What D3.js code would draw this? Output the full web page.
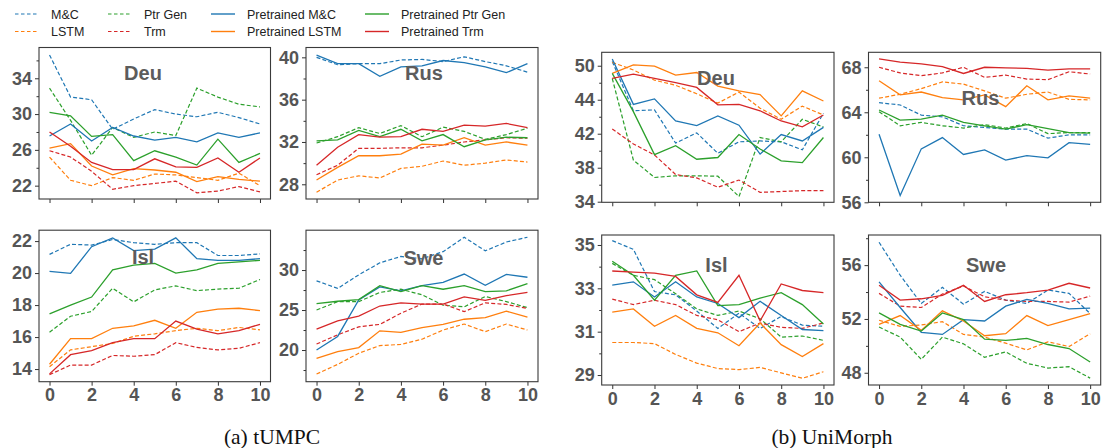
<!DOCTYPE html>
<html>
<head>
<meta charset="utf-8">
<script src="https://cdn.jsdelivr.net/npm/d3@7"></script>
<style>
    body { margin: 0; background: #fff; }
    svg text { font-family: "Liberation Sans", Arial, Helvetica, sans-serif; }
    .tick text { font-weight: bold; fill: #555; font-size: 18px; }
    .tick line { stroke: #333; }
    .domain { display: none; }
    .panel-title { font-weight: bold; fill: #5c5c5c; font-size: 20px; }
    .caption { font-family: "Liberation Serif", "Times New Roman", serif; font-size: 21.5px; fill: #111; }
    .legend-label { font-size: 12.5px; fill: #222; }
</style>
</head>
<body>
<div id="chart"></div>
<script>
// x values (training steps) and axis ticks
const steps = [0, 1, 2, 3, 4, 5, 6, 7, 8, 9, 10];
const xTicks = [0, 2, 4, 6, 8, 10];

const seriesNames = ["M&C", "LSTM", "Ptr Gen", "Trm",
    "Pretrained M&C", "Pretrained LSTM", "Pretrained Ptr Gen", "Pretrained Trm"];

// every panel: one row per series, same order as seriesNames
const tumpcDeu = [
    [36.6, 31.9, 31.6, 28.3, 29.45, 30.5, 30.0, 29.7, 30.2, 29.6, 28.9],
    [25.2, 22.6, 22.0, 22.9, 22.6, 23.3, 23.2, 22.9, 22.6, 23.4, 22.0],
    [32.9, 29.3, 25.4, 28.5, 27.4, 28.0, 27.6, 32.9, 31.9, 31.1, 30.8],
    [25.9, 25.2, 23.6, 21.6, 22.0, 22.25, 22.5, 21.2, 21.4, 21.9, 21.3],
    [27.55, 28.9, 27.0, 28.5, 27.55, 27.1, 27.4, 26.9, 27.9, 27.4, 27.9],
    [26.2, 26.7, 24.2, 23.2, 23.9, 23.75, 23.5, 22.45, 23.0, 22.7, 22.5],
    [30.2, 29.8, 27.5, 27.7, 24.8, 25.9, 25.2, 24.3, 27.2, 24.6, 25.6],
    [28.0, 26.4, 24.6, 23.8, 23.8, 25.0, 24.1, 24.05, 25.1, 23.5, 25.1]
];
const tumpcRus = [
    [40.0, 39.3, 39.4, 39.4, 39.75, 39.8, 39.6, 40.05, 39.6, 39.2, 38.6],
    [27.25, 28.4, 28.8, 28.6, 29.5, 29.7, 30.2, 29.8, 30.0, 30.3, 30.1],
    [31.9, 32.5, 33.35, 32.8, 33.55, 32.5, 33.4, 33.0, 32.25, 32.7, 33.3],
    [28.9, 29.8, 31.4, 31.4, 31.45, 31.45, 31.7, 32.0, 32.2, 32.4, 32.35],
    [40.2, 39.4, 39.4, 38.2, 39.1, 39.2, 39.7, 39.5, 39.1, 38.55, 39.4],
    [28.4, 29.6, 30.7, 30.7, 30.85, 31.8, 31.7, 32.4, 31.7, 32.0, 31.7],
    [32.1, 32.2, 33.1, 32.5, 33.2, 32.1, 32.7, 31.55, 32.2, 32.45, 32.4],
    [29.8, 31.5, 32.7, 32.45, 32.5, 33.2, 33.0, 33.6, 33.5, 33.75, 33.35]
];
const tumpcIsl = [
    [21.17, 21.8, 21.75, 22.1, 21.9, 21.8, 21.9, 21.9, 21.1, 21.1, 21.2],
    [14.15, 15.2, 15.4, 15.6, 16.05, 16.2, 16.4, 16.55, 16.4, 16.6, 16.45],
    [16.3, 17.3, 17.6, 19.05, 18.2, 18.95, 19.2, 18.9, 19.0, 19.05, 19.6],
    [13.65, 14.25, 14.25, 14.85, 14.8, 14.9, 15.65, 15.35, 15.2, 15.3, 15.65],
    [20.1, 19.98, 21.65, 22.2, 21.4, 21.5, 22.2, 20.9, 20.8, 20.8, 20.9],
    [14.3, 15.9, 15.9, 16.55, 16.7, 17.05, 16.55, 17.55, 17.75, 17.8, 17.65],
    [17.45, 18.0, 18.5, 20.2, 20.5, 20.6, 20.0, 20.2, 20.6, 20.7, 20.8],
    [13.7, 14.9, 15.15, 15.65, 15.9, 15.9, 17.0, 16.5, 16.2, 16.4, 16.8]
];
const tumpcSwe = [
    [28.65, 27.7, 29.4, 30.9, 31.7, 31.4, 32.3, 34.1, 32.4, 33.5, 34.1],
    [17.0, 18.2, 19.6, 20.55, 20.7, 21.35, 22.5, 23.25, 22.3, 23.25, 22.5],
    [25.0, 26.05, 26.05, 27.2, 27.6, 26.9, 25.6, 25.4, 26.7, 26.05, 25.3],
    [20.75, 21.9, 22.9, 23.2, 24.6, 25.75, 25.75, 24.8, 25.9, 25.7, 25.2],
    [20.0, 21.7, 26.25, 27.9, 27.4, 28.05, 28.45, 29.5, 28.1, 29.45, 29.1],
    [18.95, 19.8, 20.3, 22.4, 22.2, 22.8, 23.2, 23.85, 24.05, 24.85, 24.1],
    [25.8, 26.1, 26.3, 28.05, 27.3, 28.05, 27.6, 28.05, 27.3, 27.4, 28.3],
    [22.6, 23.65, 24.25, 25.5, 25.9, 25.75, 25.75, 26.65, 26.2, 26.8, 27.2]
];
const uniDeu = [
    [50.5, 44.7, 44.8, 40.9, 42.1, 39.7, 41.05, 41.15, 41.05, 40.1, 44.4],
    [50.4, 49.5, 48.3, 47.7, 46.7, 45.6, 46.9, 45.0, 43.7, 45.25, 44.2],
    [48.5, 38.9, 36.85, 37.05, 37.05, 37.0, 34.6, 41.55, 41.05, 43.7, 42.8],
    [42.55, 40.8, 39.5, 37.2, 36.8, 35.7, 36.55, 35.1, 35.2, 35.3, 35.3],
    [50.8, 45.45, 46.1, 43.5, 42.95, 44.1, 43.0, 39.6, 41.9, 41.15, 42.75],
    [49.1, 50.1, 49.95, 48.9, 49.2, 47.6, 47.05, 46.6, 44.1, 47.05, 45.85],
    [49.1, 44.6, 39.55, 40.6, 39.0, 39.2, 41.9, 40.2, 38.8, 38.6, 41.55],
    [48.5, 49.0, 48.5, 48.0, 47.45, 45.4, 45.45, 44.7, 43.5, 42.8, 44.2]
];
const uniRus = [
    [64.85, 64.65, 63.75, 63.6, 62.8, 62.65, 62.5, 62.5, 61.7, 62.0, 62.0],
    [65.25, 65.6, 66.1, 66.7, 66.5, 65.9, 65.25, 65.6, 65.8, 65.15, 65.1],
    [64.05, 62.8, 63.1, 62.8, 62.6, 62.9, 62.6, 63.0, 62.1, 62.2, 62.2],
    [68.0, 67.5, 67.25, 67.5, 68.0, 67.1, 67.3, 66.95, 66.9, 67.6, 67.4],
    [62.05, 56.6, 60.75, 61.75, 60.25, 60.65, 59.75, 60.15, 59.95, 61.3, 61.15],
    [66.8, 65.55, 65.8, 65.3, 65.1, 65.55, 64.5, 66.35, 65.1, 65.45, 65.25],
    [64.2, 63.3, 63.4, 63.75, 63.1, 62.8, 62.5, 62.9, 62.55, 62.2, 62.15],
    [68.75, 68.45, 68.3, 68.05, 67.45, 68.0, 67.95, 67.9, 67.75, 67.85, 67.85]
];
const uniIsl = [
    [35.2, 34.8, 32.85, 32.7, 31.95, 31.15, 31.85, 31.15, 31.7, 31.3, 31.25],
    [30.5, 30.5, 30.45, 29.95, 29.55, 29.3, 29.25, 29.35, 29.1, 28.85, 29.15],
    [34.15, 33.6, 33.4, 32.75, 32.05, 31.75, 31.95, 31.6, 30.75, 30.8, 30.6],
    [32.5, 32.25, 32.45, 32.25, 31.75, 31.55, 31.0, 31.4, 31.2, 31.15, 31.4],
    [33.15, 33.3, 32.6, 33.3, 32.6, 32.3, 31.65, 32.4, 31.75, 31.1, 31.05],
    [31.9, 32.05, 31.25, 31.75, 31.15, 30.95, 30.35, 31.4, 30.4, 29.85, 30.45],
    [34.25, 33.6, 32.45, 33.6, 33.8, 32.2, 32.25, 32.55, 32.8, 32.25, 31.35],
    [33.8, 33.75, 33.7, 33.55, 32.7, 32.35, 33.6, 31.5, 33.2, 32.9, 32.8]
];
const uniSwe = [
    [57.7, 55.25, 53.15, 54.35, 53.1, 54.05, 53.4, 53.15, 54.15, 53.9, 52.4],
    [51.9, 51.45, 51.55, 51.8, 50.85, 50.65, 50.2, 49.7, 50.3, 49.95, 50.9],
    [51.4, 50.65, 49.0, 50.65, 50.15, 49.15, 49.55, 48.7, 48.35, 48.45, 47.6],
    [53.9, 52.95, 52.85, 53.85, 54.45, 53.65, 53.4, 53.3, 53.3, 53.25, 53.7],
    [54.75, 52.85, 51.0, 50.85, 51.95, 51.85, 52.95, 53.45, 53.15, 52.75, 52.8],
    [51.6, 52.25, 51.15, 52.6, 51.85, 50.75, 50.9, 52.25, 51.5, 51.95, 52.4],
    [52.45, 51.6, 51.1, 52.45, 51.95, 50.5, 50.4, 50.55, 50.1, 49.8, 48.8],
    [54.5, 53.4, 53.5, 53.75, 54.5, 53.3, 53.8, 53.95, 54.15, 54.65, 54.3]
];

// y tick values (labelled / small unlabelled) and labels as printed
const tumpcDeuTicks = [22, 26, 30, 34], tumpcDeuMinor = [24, 28, 32, 36];
const tumpcRusTicks = [28, 32, 36, 40], tumpcRusMinor = [30, 34, 38];
const tumpcIslTicks = [14, 16, 18, 20, 22], tumpcIslMinor = [];
const tumpcSweTicks = [20, 25, 30], tumpcSweMinor = [17.5, 22.5, 27.5, 32.5];
const uniDeuTicks = [34, 38, 42, 46, 50], uniDeuMinor = [36, 40, 44, 48];
const uniDeuLabels = ["34", "38", "42", "44", "50"];
const uniRusTicks = [56, 60, 64, 68], uniRusMinor = [58, 62, 66];
const uniIslTicks = [29, 31, 33, 35], uniIslMinor = [30, 32, 34];
const uniSweTicks = [48, 52, 56], uniSweMinor = [50, 54, 58];

// blue, orange, green, red for M&C, LSTM, Ptr Gen, Trm (same for pretrained)
const colors = ["#1f77b4", "#ff7f0e", "#2ca02c", "#d62728"];

class SmallPanel {
    constructor(svg, cfg) {
        this.svg = svg;
        this.cfg = cfg;
        this.initVis();
    }

    initVis() {
        let vis = this;
        let c = vis.cfg;

        vis.g = vis.svg.append("g")
            .attr("transform", "translate(" + c.left + "," + c.top + ")");

        vis.x = d3.scaleLinear().domain([-0.5, 10.5]).range([0, c.width]);
        vis.y = d3.scaleLinear().domain(c.yDomain).range([c.height, 0]);

        // y axis, labelled ticks
        let yAxis = d3.axisLeft(vis.y).tickValues(c.ticks).tickSize(4).tickPadding(3)
            .tickFormat(c.labels ? (d, i) => c.labels[i] : d3.format("d"));
        vis.g.append("g").attr("class", "y axis").call(yAxis);

        // small ticks without labels
        vis.g.append("g").attr("class", "y minor")
            .call(d3.axisLeft(vis.y).tickValues(c.minor).tickSize(2.5).tickFormat(""));

        let xAxis = d3.axisBottom(vis.x).tickValues(xTicks).tickSize(4).tickPadding(3)
            .tickFormat(c.showX ? d3.format("d") : "");
        vis.g.append("g").attr("class", "x axis")
            .attr("transform", "translate(0," + c.height + ")")
            .call(xAxis);

        vis.line = d3.line()
            .x((d, i) => vis.x(steps[i]))
            .y(d => vis.y(d));

        // dashed (from scratch) first, then pretrained solid lines
        c.data.forEach((row, i) => {
            vis.g.append("path")
                .datum(row)
                .attr("d", vis.line)
                .attr("fill", "none")
                .attr("stroke", colors[i % 4])
                .attr("stroke-width", i < 4 ? 1.2 : 1.3)
                .attr("stroke-dasharray", i < 4 ? "4,2.2" : null);
        });

        // frame
        vis.g.append("rect")
            .attr("width", c.width)
            .attr("height", c.height)
            .attr("fill", "none")
            .attr("stroke", "#3a3a3a")
            .attr("stroke-width", 1.1);

        vis.g.append("text")
            .attr("class", "panel-title")
            .attr("x", c.titleX)
            .attr("y", c.titleY)
            .attr("text-anchor", "middle")
            .text(c.title);
    }
}

let svg = d3.select("#chart").append("svg")
    .attr("width", 1105)
    .attr("height", 448);

const panels = [
    { title: "Deu", data: tumpcDeu, ticks: tumpcDeuTicks, minor: tumpcDeuMinor, yDomain: [20.51, 37.44],
      left: 39, top: 47.5, width: 231.5, height: 151.5, titleX: 104, titleY: 32.5, showX: false },
    { title: "Rus", data: tumpcRus, ticks: tumpcRusTicks, minor: tumpcRusMinor, yDomain: [26.61, 40.93],
      left: 306, top: 47.5, width: 232, height: 151.5, titleX: 118, titleY: 32.5, showX: false },
    { title: "Isl", data: tumpcIsl, ticks: tumpcIslTicks, minor: tumpcIslMinor, yDomain: [13.21, 22.68],
      left: 39, top: 230.2, width: 231.5, height: 151.5, titleX: 104, titleY: 34, showX: true },
    { title: "Swe", data: tumpcSwe, ticks: tumpcSweTicks, minor: tumpcSweMinor, yDomain: [16.04, 34.98],
      left: 306, top: 230.2, width: 232, height: 151.5, titleX: 117.4, titleY: 35, showX: true },
    { title: "Deu", data: uniDeu, ticks: uniDeuTicks, minor: uniDeuMinor, labels: uniDeuLabels, yDomain: [33.93, 51.58],
      left: 601.7, top: 52.3, width: 232.3, height: 150, titleX: 114.3, titleY: 32.7, showX: false },
    { title: "Rus", data: uniRus, ticks: uniRusTicks, minor: uniRusMinor, yDomain: [56.0, 69.33],
      left: 868.5, top: 52.3, width: 232.2, height: 150, titleX: 112, titleY: 52.7, showX: false },
    { title: "Isl", data: uniIsl, ticks: uniIslTicks, minor: uniIslMinor, yDomain: [28.54, 35.46],
      left: 601.7, top: 235, width: 232.3, height: 150, titleX: 114.8, titleY: 37, showX: true },
    { title: "Swe", data: uniSwe, ticks: uniSweTicks, minor: uniSweMinor, yDomain: [47.09, 58.24],
      left: 868.5, top: 235, width: 232.2, height: 150, titleX: 117.5, titleY: 37, showX: true }
];

panels.forEach(p => new SmallPanel(svg, p));

// legend: four columns of two entries (M&C/LSTM, Ptr Gen/Trm, ...)
let legend = svg.append("g").attr("class", "legend");
const legendCols = [15, 108, 211, 365];
const legendRows = [14, 31.5];
seriesNames.forEach((name, i) => {
    let lx = legendCols[Math.floor(i / 2)];
    let ly = legendRows[i % 2];
    legend.append("line")
        .attr("x1", lx).attr("x2", lx + 24)
        .attr("y1", ly).attr("y2", ly)
        .attr("stroke", colors[i % 4])
        .attr("stroke-width", i < 4 ? 1.2 : 1.4)
        .attr("stroke-dasharray", i < 4 ? "3.5,2.5" : null);
    legend.append("text")
        .attr("class", "legend-label")
        .attr("x", lx + 36)
        .attr("y", ly + 4.5)
        .text(name);
});

svg.append("text").attr("class", "caption")
    .attr("x", 272).attr("y", 444).attr("text-anchor", "middle")
    .text("(a) tUMPC");
svg.append("text").attr("class", "caption")
    .attr("x", 832).attr("y", 444).attr("text-anchor", "middle")
    .text("(b) UniMorph");
</script>
</body>
</html>
